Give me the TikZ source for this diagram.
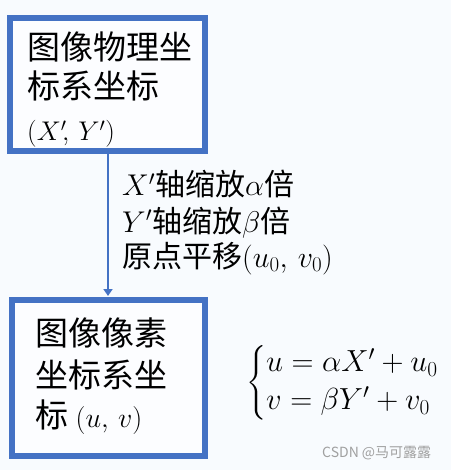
\RequirePackage{fix-cm}
\documentclass[tikz,border=0pt]{standalone}
\usepackage{amsmath}
\usepackage{fontspec}
\newfontfamily\cjk{Noto Sans CJK SC}
\usetikzlibrary{arrows.meta}
\definecolor{boxblue}{RGB}{68,114,196}
\definecolor{bgc}{RGB}{248,251,254}
\definecolor{wmgray}{RGB}{160,160,160}
\newcommand{\mathsz}[2]{{\fontsize{#1}{#1}\selectfont$#2$}}
\begin{document}
\begin{tikzpicture}[x=1pt,y=-1pt,
  frame/.style={draw=boxblue,line width=6pt,fill=white!60!bgc,inner sep=0pt,outer sep=0pt},
  bigtxt/.style={anchor=base west,inner sep=0pt,font=\cjk\fontsize{33}{40}\selectfont},
  midtxt/.style={anchor=base west,inner sep=0pt,font=\cjk\fontsize{30}{34}\selectfont},
  conn/.style={draw=boxblue,line width=2pt,-{Triangle[length=7pt,width=9pt]}}]
\fill[bgc] (0,0) rectangle (451,470);
\useasboundingbox (0,0) rectangle (451,470);
% boxes
\node[frame,minimum width=194.5pt,minimum height=133pt] (top) at (107.25,84.5) {};
\node[frame,minimum width=192.5pt,minimum height=156pt] (bot) at (108.25,377.5) {};
% top box text
\node[bigtxt] (t1) at (27,60) {图像物理坐};
\node[bigtxt] (t2) at (27,99) {标系坐标};
\node[bigtxt] (t3) at (27,141) {\mathsz{27}{(X'\!,\,Y')}};
% bottom box text
\node[bigtxt] (b1) at (35,345) {图像像素};
\node[bigtxt] (b2) at (35,387) {坐标系坐};
\node[bigtxt] (b3) at (35,427) {标 \mathsz{28}{(u,\,v)}};
% connector
\coordinate (a0) at (108,154);
\coordinate (a1) at (108,296);
\draw[conn] (a0) -- (a1);
% label on connector
\node[midtxt] (m1) at (122,196) {$X'$轴缩放$\alpha$倍};
\node[midtxt] (m2) at (122,232) {$Y'$轴缩放$\beta$倍};
\node[midtxt] (m3) at (122,267) {原点平移$(u_0,\,v_0)$};
% equations
\node[anchor=west,inner sep=0pt,font=\fontsize{30.5}{32}\selectfont] (eq) at (246,383)
  {$\begin{cases}u=\alpha X'+u_0\\ v=\beta Y'+v_0\end{cases}$};
% watermark
\node[anchor=west,inner sep=0pt,text=wmgray,font=\cjk\fontsize{14}{16}\selectfont] (wm) at (322,453) {CSDN @马可露露};
\end{tikzpicture}
\end{document}
